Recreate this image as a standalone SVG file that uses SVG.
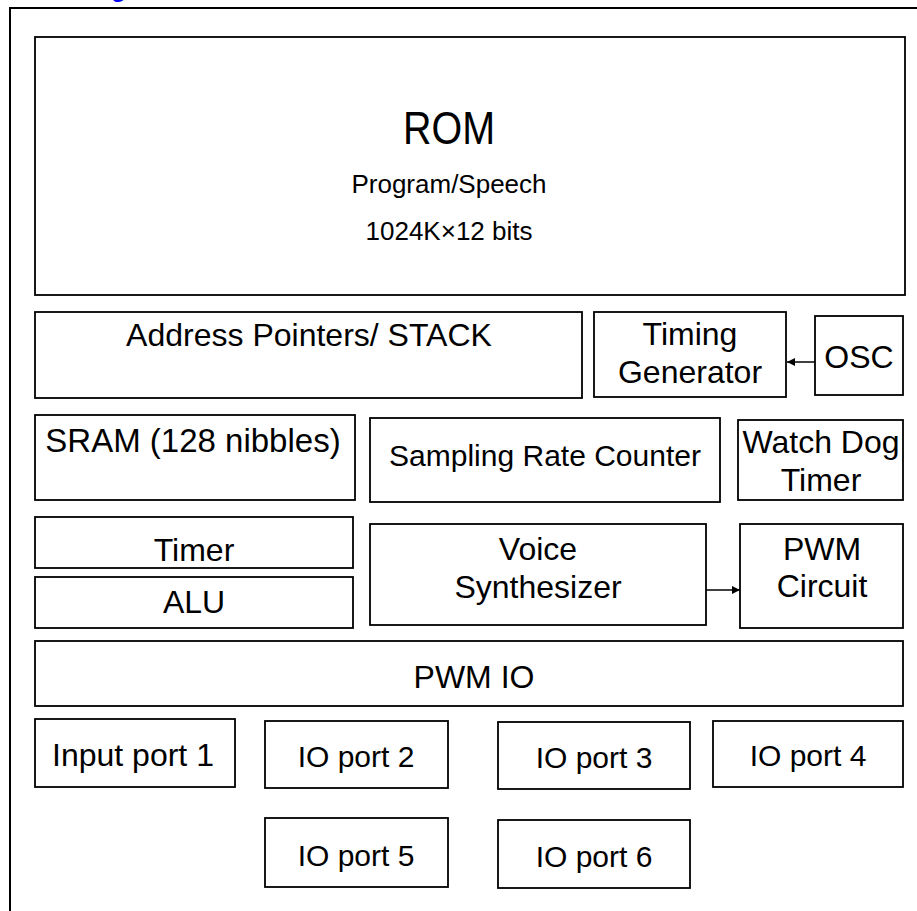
<svg xmlns="http://www.w3.org/2000/svg" width="917" height="911" viewBox="0 0 917 911">
<style>
.box{fill:#fff;stroke:#000;stroke-width:1.8}
.t{font-family:"Liberation Sans",Arial,sans-serif;fill:#000;text-anchor:middle}
.f32{font-size:32px}
.f30{font-size:30px}
.f26{font-size:26px}
.con{stroke:#000;stroke-width:1.5;fill:none}
</style>
<defs>
<marker id="ah" viewBox="0 0 10 10" refX="10" refY="5" markerWidth="8" markerHeight="8" markerUnits="userSpaceOnUse" orient="auto">
<path d="M0,0 L10,5 L0,10 z" fill="#000"/>
</marker>
</defs>
<rect width="917" height="911" fill="#fff"/>
<text x="2" y="-3" style="font-family:'Liberation Sans',Arial,sans-serif;font-size:24px;font-weight:bold;fill:#0000ff">Block Diagram</text>
<rect id="frame" x="10" y="8" width="930" height="930" fill="none" stroke="#000" stroke-width="2"/>

<g id="rom"><rect class="box" x="35" y="37" width="870" height="258"/>
<text class="t" x="449" y="144" font-size="47" textLength="92" lengthAdjust="spacingAndGlyphs">ROM</text>
<text class="t f26" x="449" y="193">Program/Speech</text>
<text class="t f26" x="449" y="240">1024K×12 bits</text></g>

<g id="addr"><rect class="box" x="35" y="312" width="547" height="86"/>
<text class="t f32" x="309" y="346">Address Pointers/ STACK</text></g>

<g id="timing"><rect class="box" x="594" y="312" width="192" height="85"/>
<text class="t f32" x="690" y="345">Timing</text>
<text class="t f32" x="690" y="383">Generator</text></g>

<g id="osc"><rect class="box" x="815" y="316" width="88" height="79"/>
<text class="t f32" x="859" y="368">OSC</text></g>

<g id="sram"><rect class="box" x="35" y="415" width="320" height="85"/>
<text class="t" font-size="33" x="193" y="452">SRAM (128 nibbles)</text></g>

<g id="src"><rect class="box" x="370" y="418" width="350" height="84"/>
<text class="t f30" x="545" y="466">Sampling Rate Counter</text></g>

<g id="wdt"><rect class="box" x="738" y="420" width="165" height="80"/>
<text class="t f32" x="821" y="453">Watch Dog</text>
<text class="t f32" x="821" y="491">Timer</text></g>

<g id="timer"><rect class="box" x="35" y="517" width="318" height="51"/>
<text class="t f32" x="194" y="561">Timer</text></g>

<g id="alu"><rect class="box" x="35" y="577" width="318" height="51"/>
<text class="t f32" x="194" y="613">ALU</text></g>

<g id="voice"><rect class="box" x="370" y="524" width="336" height="101"/>
<text class="t f32" x="538" y="560">Voice</text>
<text class="t f32" x="538" y="598">Synthesizer</text></g>

<g id="pwmc"><rect class="box" x="740" y="524" width="163" height="104"/>
<text class="t f32" x="822" y="560">PWM</text>
<text class="t f32" x="822" y="597">Circuit</text></g>

<g id="pwmio"><rect class="box" x="35" y="641" width="868" height="65"/>
<text class="t f32" x="474" y="688">PWM IO</text></g>

<g id="in1"><rect class="box" x="35" y="719" width="200" height="68"/>
<text class="t f32" x="133" y="766">Input port 1</text></g>
<g id="io2"><rect class="box" x="265" y="721" width="183" height="67"/>
<text class="t f30" x="356" y="767">IO port 2</text></g>
<g id="io3"><rect class="box" x="498" y="722" width="192" height="67"/>
<text class="t f30" x="594" y="768">IO port 3</text></g>
<g id="io4"><rect class="box" x="713" y="721" width="190" height="66"/>
<text class="t f30" x="808" y="766">IO port 4</text></g>
<g id="io5"><rect class="box" x="265" y="818" width="183" height="69"/>
<text class="t f30" x="356" y="866">IO port 5</text></g>
<g id="io6"><rect class="box" x="498" y="820" width="192" height="68"/>
<text class="t f30" x="594" y="867">IO port 6</text></g>

<g id="connectors">
<line class="con" x1="815" y1="362" x2="787" y2="362" marker-end="url(#ah)"/>
<line class="con" x1="706" y1="590" x2="740" y2="590" marker-end="url(#ah)"/>
</g>
</svg>
